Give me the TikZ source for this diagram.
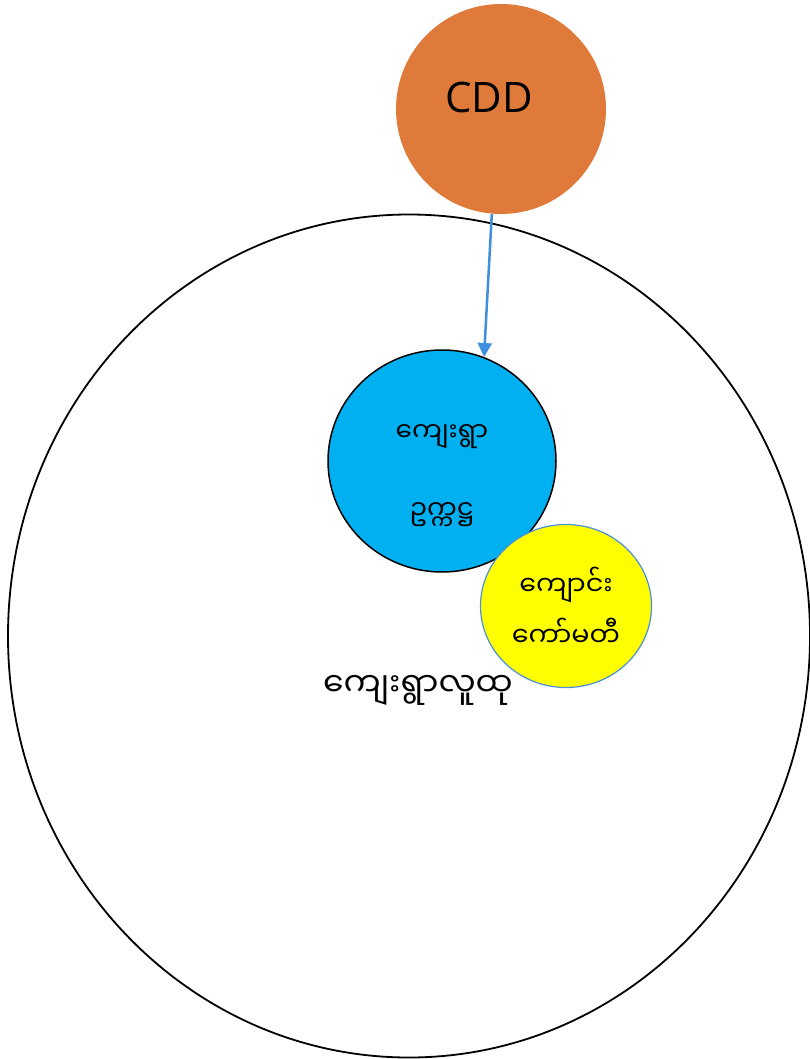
\documentclass[tikz,border=0pt]{standalone}
\usepackage{fontspec}
\setmainfont{Open Sans}
\newfontfamily\mmfont[Script=Myanmar]{Noto Sans Myanmar UI}
\usetikzlibrary{shapes.geometric,arrows.meta}
\definecolor{cddorange}{HTML}{E07A3A}
\definecolor{chairblue}{HTML}{00B0F0}
\definecolor{arrowblue}{HTML}{3F8FDF}
\definecolor{ringblue}{HTML}{4A90D9}
\definecolor{yel}{HTML}{FFFF00}
\tikzset{
  ring/.style={ellipse,inner sep=0pt},
  mm/.style={font=\mmfont\fontsize{26.5}{30}\selectfont,inner sep=0pt},
}
\begin{document}
\begin{tikzpicture}[x=1pt,y=-1pt]
\useasboundingbox (0,0) rectangle (810,1059);
\node[ring,draw=black,line width=1.8pt,minimum width=802pt,minimum height=843pt] (community) at (409,636) {};
\node[ring,fill=cddorange,minimum width=210pt,minimum height=210pt] (cdd) at (501,109) {};
\node[font=\fontsize{42}{46}\selectfont,inner sep=0pt,anchor=base] (cddtext) at (489,113) {CDD};
\node[ring,fill=chairblue,draw=black,line width=1.5pt,minimum width=228pt,minimum height=222pt] (chair) at (442,461) {};
\node[ring,fill=yel,draw=ringblue,line width=1.2pt,minimum width=171pt,minimum height=163pt] (school) at (566,606) {};
\draw[arrowblue,line width=2.5pt,-{Triangle[width=14pt,length=14pt]}] (cdd.265) -- (chair.68);
\node[mm] (chairA) at (442,437) {ကျေးရွာ};
\node[mm] (chairB) at (442,515) {ဥက္ကဋ္ဌ};
\node[mm,font=\mmfont\fontsize{27}{30}\selectfont] (schoolA) at (566,585) {ကျောင်း};
\node[mm,font=\mmfont\fontsize{27}{30}\selectfont] (schoolB) at (566,632) {ကော်မတီ};
\node[mm,font=\mmfont\fontsize{33}{36}\selectfont] (commtext) at (418,690) {ကျေးရွာလူထု};
\end{tikzpicture}
\end{document}
